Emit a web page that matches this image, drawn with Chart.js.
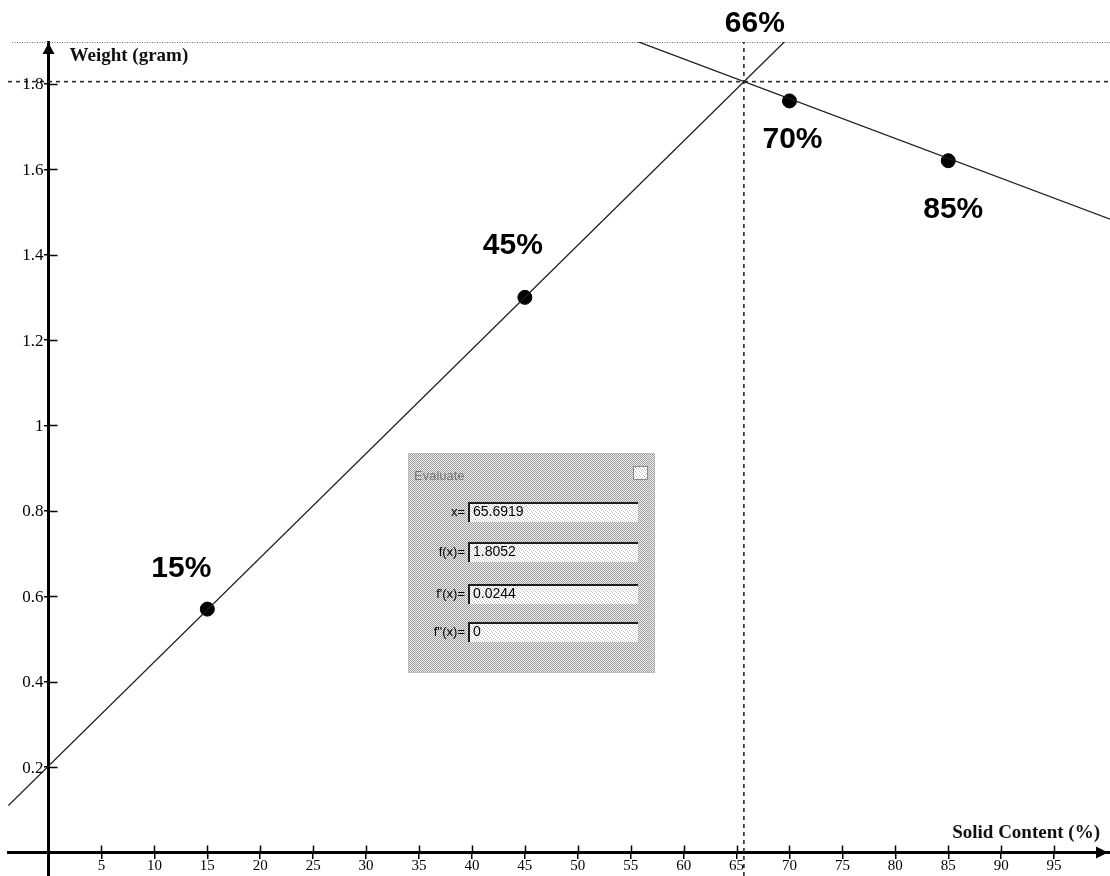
<!DOCTYPE html>
<html>
<head>
<meta charset="utf-8">
<title>Weight vs Solid Content</title>
<script src="https://cdn.jsdelivr.net/npm/chart.js@4.4.1/dist/chart.umd.min.js"></script>
<style>
  html, body { margin: 0; padding: 0; background: #fff; }
  #wrap { position: relative; width: 1110px; height: 876px; }
  canvas { display: block; }
</style>
</head>
<body>
<div id="wrap"><canvas id="chart" width="1110" height="876"></canvas></div>
<script>
// Measured samples: solid content (%) and weight (gram)
const sampleContent = [15, 45, 70, 85];
const sampleWeight = [0.57, 1.30, 1.76, 1.62];

// Rising trend line (low solid content), end points
const riseContent = [-3.8, 70];
const riseWeight = [0.11, 1.91];

// Falling trend line (high solid content), end points
const fallContent = [55, 100.3];
const fallWeight = [1.905, 1.483];

// Evaluate readout at the crossing of the two lines
const evalNames = ['x=', 'f(x)=', "f'(x)=", "f''(x)="];
const evalValues = [65.6919, 1.8052, 0.0244, 0];

// Axis ticks
const xTickValues = [5, 10, 15, 20, 25, 30, 35, 40, 45, 50, 55, 60, 65, 70, 75, 80, 85, 90, 95];
const xTickLabels = ['5', '10', '15', '20', '25', '30', '35', '40', '45', '50', '55', '60', '65', '70', '75', '80', '85', '90', '95'];
const yTickValues = [0.2, 0.4, 0.6, 0.8, 1, 1.2, 1.4, 1.6, 1.8];
const yTickLabels = ['0.2', '0.4', '0.6', '0.8', '1', '1.2', '1.4', '1.6', '1.8'];

// Axis titles and panel title
const xTitle = 'Solid Content (%)';
const yTitle = 'Weight (gram)';
const panelTitle = 'Evaluate';

// Visible window of the graph
const X_MIN = -3.83, X_MAX = 100.28;
const Y_MIN = -0.055, Y_MAX = 1.898;

const crossX = evalValues[0];
const crossY = evalValues[1];

const pts = (xs, ys) => xs.map((x, i) => ({ x: x, y: ys[i] }));

// Small dither tile used for the floating panel
function ditherTile(dark, light, marks) {
  const c = document.createElement('canvas');
  c.width = 4; c.height = 4;
  const g = c.getContext('2d');
  g.fillStyle = light; g.fillRect(0, 0, 4, 4);
  g.fillStyle = dark;
  marks.forEach(m => g.fillRect(m[0], m[1], 1, 1));
  return c;
}

const serif = '"Liberation Serif", "Times New Roman", serif';
const sans = '"Liberation Sans", Arial, sans-serif';

const extras = {
  id: 'sketchExtras',
  beforeDatasetsDraw(chart) {
    const { ctx, chartArea } = chart;
    ctx.save();
    // dotted frame edge along the top of the view
    ctx.strokeStyle = '#6f6f6f';
    ctx.lineWidth = 1;
    ctx.setLineDash([1, 1.5]);
    ctx.beginPath();
    ctx.moveTo(chartArea.left + 4, chartArea.top + 0.5);
    ctx.lineTo(chartArea.right, chartArea.top + 0.5);
    ctx.stroke();
    ctx.restore();
  },
  afterDatasetsDraw(chart) {
    const { ctx, chartArea, scales } = chart;
    const xs = scales.x, ys = scales.y;
    const x0 = xs.getPixelForValue(0);
    const y0 = ys.getPixelForValue(0);
    ctx.save();

    // inner half of each tick mark, so ticks cross the axes
    ctx.strokeStyle = '#000';
    ctx.lineWidth = 1.5;
    ctx.setLineDash([]);
    ctx.beginPath();
    xTickValues.forEach(v => {
      const px = Math.round(xs.getPixelForValue(v)) + 0.5;
      ctx.moveTo(px, y0 - 7); ctx.lineTo(px, y0);
    });
    yTickValues.forEach(v => {
      const py = Math.round(ys.getPixelForValue(v)) + 0.5;
      ctx.moveTo(x0, py); ctx.lineTo(x0 + 9, py);
    });
    ctx.stroke();

    // tick labels placed through the scales
    ctx.fillStyle = '#000';
    ctx.font = '15px ' + serif;
    ctx.textAlign = 'center';
    ctx.textBaseline = 'top';
    xTickValues.forEach((v, i) => {
      ctx.fillText(xTickLabels[i], xs.getPixelForValue(v), y0 + 6);
    });
    ctx.font = '17px ' + serif;
    ctx.textAlign = 'right';
    ctx.textBaseline = 'middle';
    yTickValues.forEach((v, i) => {
      ctx.fillText(yTickLabels[i], x0 - 5, ys.getPixelForValue(v) + 1);
    });

    // arrowheads
    ctx.fillStyle = '#000';
    ctx.beginPath();
    ctx.moveTo(chartArea.right - 2, y0);
    ctx.lineTo(chartArea.right - 14, y0 - 6);
    ctx.lineTo(chartArea.right - 14, y0 + 6);
    ctx.closePath();
    ctx.fill();
    ctx.beginPath();
    ctx.moveTo(x0, chartArea.top + 1);
    ctx.lineTo(x0 - 6, chartArea.top + 12);
    ctx.lineTo(x0 + 6, chartArea.top + 12);
    ctx.closePath();
    ctx.fill();

    // axis titles
    ctx.fillStyle = '#111';
    ctx.font = 'bold 19px ' + serif;
    ctx.textBaseline = 'middle';
    ctx.textAlign = 'left';
    ctx.fillText(yTitle, x0 + 21, chartArea.top + 14);
    ctx.textAlign = 'right';
    ctx.fillText(xTitle, chartArea.right - 10, y0 - 19);

    // percentage labels next to the samples and the crossing
    ctx.font = 'bold 30px ' + sans;
    ctx.textAlign = 'center';
    ctx.fillStyle = '#000';
    const offsets = [[-26, -40], [-12, -52], [3, 39], [5, 49]];
    const meta = chart.getDatasetMeta(4);
    meta.data.forEach((el, i) => {
      ctx.fillText(sampleContent[i] + '%', el.x + offsets[i][0], el.y + offsets[i][1]);
    });
    const cx = xs.getPixelForValue(crossX), cy = ys.getPixelForValue(crossY);
    ctx.fillText(Math.round(crossX) + '%', cx + 11, cy - 58);

    // floating Evaluate panel
    const px = 408, py = 453, pw = 247, ph = 220;
    const tileA = ditherTile('#9c9c9c', '#f0f0f0', [[0,0],[2,0],[1,1],[3,1],[0,2],[2,2],[3,3],[1,3]]);
    const tileB = ditherTile('#c4c4c4', '#ffffff', [[0,0],[2,1],[1,2],[3,3]]);
    ctx.fillStyle = ctx.createPattern(tileA, 'repeat');
    ctx.fillRect(px, py, pw, ph);
    ctx.strokeStyle = '#b5b5b5';
    ctx.lineWidth = 1;
    ctx.setLineDash([1, 1]);
    ctx.strokeRect(px + 0.5, py + 0.5, pw - 1, ph - 1);
    ctx.setLineDash([]);

    ctx.font = '13px ' + sans;
    ctx.textAlign = 'left';
    ctx.fillStyle = '#777';
    ctx.fillText(panelTitle, px + 6, py + 23);

    // close box
    ctx.fillStyle = ctx.createPattern(tileB, 'repeat');
    ctx.fillRect(px + 225, py + 13, 15, 14);
    ctx.strokeStyle = '#8a8a8a';
    ctx.strokeRect(px + 225.5, py + 13.5, 14, 13);

    const rowY = [512, 552, 594, 632];
    evalNames.forEach((name, i) => {
      const ry = rowY[i];
      const bx = 468, bw = 170, bh = 20, by = ry - 10;
      ctx.fillStyle = ctx.createPattern(tileB, 'repeat');
      ctx.fillRect(bx, by, bw, bh);
      ctx.strokeStyle = '#1e1e1e';
      ctx.lineWidth = 2;
      ctx.beginPath();
      ctx.moveTo(bx + 1, by + bh);
      ctx.lineTo(bx + 1, by + 1);
      ctx.lineTo(bx + bw, by + 1);
      ctx.stroke();

      ctx.fillStyle = '#000';
      ctx.font = '13px ' + sans;
      ctx.textAlign = 'right';
      ctx.fillText(name, bx - 3, ry);
      ctx.font = '14px ' + sans;
      ctx.textAlign = 'left';
      ctx.fillText(String(evalValues[i]), bx + 5, ry);
    });

    ctx.restore();
  }
};

const lineStyle = { showLine: true, pointRadius: 0, borderColor: '#1c1c1c', borderWidth: 1.3, fill: false };
const guideStyle = { showLine: true, pointRadius: 0, borderColor: '#2a2a2a', borderWidth: 1.6, borderDash: [4, 4], fill: false };

new Chart(document.getElementById('chart'), {
  type: 'scatter',
  data: {
    datasets: [
      Object.assign({ label: 'rising', data: pts(riseContent, riseWeight) }, lineStyle),
      Object.assign({ label: 'falling', data: pts(fallContent, fallWeight) }, lineStyle),
      Object.assign({ label: 'weight at crossing', data: [{ x: X_MIN, y: crossY }, { x: X_MAX, y: crossY }] }, guideStyle),
      Object.assign({ label: 'content at crossing', data: [{ x: crossX, y: Y_MIN }, { x: crossX, y: Y_MAX }] }, guideStyle),
      {
        label: 'samples',
        data: pts(sampleContent, sampleWeight),
        showLine: false,
        pointRadius: 7,
        pointHoverRadius: 7,
        backgroundColor: '#000',
        borderColor: '#000'
      }
    ]
  },
  options: {
    responsive: false,
    maintainAspectRatio: false,
    animation: false,
    events: [],
    layout: { autoPadding: false, padding: { top: 42, left: 8, right: 0, bottom: 0 } },
    plugins: { legend: { display: false }, tooltip: { enabled: false } },
    scales: {
      x: {
        type: 'linear',
        min: X_MIN,
        max: X_MAX,
        position: { y: 0 },
        border: { display: true, color: '#000', width: 3 },
        grid: { display: true, drawOnChartArea: false, drawTicks: true, tickLength: 5, color: '#000', lineWidth: 1.5 },
        ticks: {
          display: false,
          stepSize: 5,
          includeBounds: false,
          autoSkip: false,
          callback: v => {
            const i = xTickValues.indexOf(Math.round(v));
            return i >= 0 ? xTickLabels[i] : null;
          }
        }
      },
      y: {
        type: 'linear',
        min: Y_MIN,
        max: Y_MAX,
        position: { x: 0 },
        border: { display: true, color: '#000', width: 3 },
        grid: { display: true, drawOnChartArea: false, drawTicks: true, tickLength: 3, color: '#000', lineWidth: 1.5 },
        ticks: {
          display: false,
          stepSize: 0.2,
          includeBounds: false,
          autoSkip: false,
          callback: v => {
            const i = yTickValues.findIndex(t => Math.abs(t - v) < 1e-6);
            return i >= 0 ? yTickLabels[i] : null;
          }
        }
      }
    }
  },
  plugins: [extras]
});
</script>
</body>
</html>
